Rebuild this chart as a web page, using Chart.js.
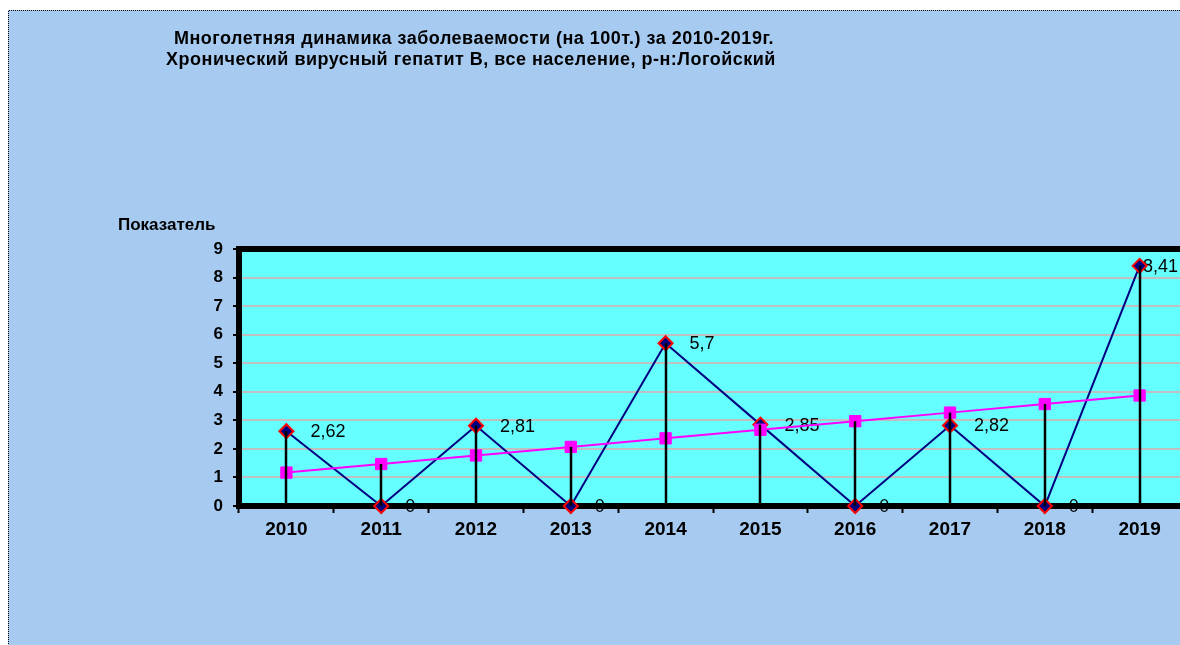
<!DOCTYPE html>
<html>
<head>
<meta charset="utf-8">
<script src="https://cdn.jsdelivr.net/npm/chart.js@4/dist/chart.umd.min.js"></script>
<style>
html, body { margin: 0; padding: 0; background: #ffffff; overflow: hidden; width: 1180px; height: 645px; }
#wrap { position: absolute; left: 0; top: 0; width: 1200px; height: 660px; }
canvas { display: block; }
</style>
</head>
<body>
<div id="wrap"><canvas id="c" width="1200" height="660"></canvas></div>
<script>
const years = ['2010', '2011', '2012', '2013', '2014', '2015', '2016', '2017', '2018', '2019'];
const incidence = [2.62, 0, 2.81, 0, 5.7, 2.85, 0, 2.82, 0, 8.41];
const trend = [1.17, 1.47, 1.77, 2.07, 2.37, 2.67, 2.97, 3.27, 3.57, 3.87];
const titleLines = [
  'Многолетняя динамика заболеваемости (на 100т.) за 2010-2019г.',
  'Хронический вирусный гепатит В, все население, р-н:Логойский'
];
const yAxisTitle = 'Показатель';
const yMin = 0, yMax = 9, yStep = 1;

const FONT = '"Liberation Sans", Arial, sans-serif';
const VISIBLE_RIGHT = 1178;

const decor = {
  id: 'decor',
  beforeDraw(chart) {
    const ctx = chart.ctx;
    ctx.save();
    ctx.fillStyle = '#ffffff';
    ctx.fillRect(0, 0, chart.width, chart.height);
    ctx.fillStyle = '#A6CAF0';
    ctx.fillRect(8, 10, chart.width, chart.height);
    ctx.strokeStyle = '#000000';
    ctx.lineWidth = 1;
    ctx.setLineDash([1, 1]);
    ctx.beginPath();
    ctx.moveTo(8.5, chart.height);
    ctx.lineTo(8.5, 10.5);
    ctx.lineTo(chart.width, 10.5);
    ctx.stroke();
    ctx.setLineDash([]);
    const a = chart.chartArea;
    ctx.fillStyle = '#66FFFF';
    ctx.fillRect(a.left, a.top, a.right - a.left, a.bottom - a.top);
    // titles
    ctx.fillStyle = '#000000';
    ctx.font = 'bold 18px ' + FONT;
    ctx.letterSpacing = '0.5px';
    ctx.textAlign = 'center';
    ctx.textBaseline = 'middle';
    ctx.fillText(titleLines[0], 474, 39);
    ctx.fillText(titleLines[1], 471, 60);
    ctx.letterSpacing = '0px';
    ctx.font = 'bold 17px ' + FONT;
    ctx.textAlign = 'left';
    ctx.fillText(yAxisTitle, 118, 225);
    ctx.restore();
  },
  beforeDatasetsDraw(chart) {
    const ctx = chart.ctx;
    const a = chart.chartArea;
    const xs = chart.scales.x, ys = chart.scales.y;
    ctx.save();
    // data labels
    ctx.fillStyle = '#000000';
    ctx.font = '18px ' + FONT;
    ctx.textAlign = 'left';
    ctx.textBaseline = 'middle';
    incidence.forEach((v, i) => {
      const txt = String(v).replace('.', ',');
      const w = ctx.measureText(txt).width;
      const x = xs.getPixelForValue(i);
      const y = ys.getPixelForValue(v);
      const lx = Math.min(x + 24, VISIBLE_RIGHT - w);
      ctx.fillText(txt, lx, y + 1);
    });
    // plot border
    ctx.strokeStyle = '#000000';
    ctx.lineWidth = 6;
    ctx.strokeRect(a.left, a.top, a.right - a.left, a.bottom - a.top);
    ctx.restore();
  },
  afterDatasetsDraw(chart) {
    const ctx = chart.ctx;
    const xs = chart.scales.x, ys = chart.scales.y;
    ctx.save();
    ctx.strokeStyle = '#000000';
    ctx.lineWidth = 2.5;
    years.forEach((yr, i) => {
      const top = Math.max(incidence[i], trend[i]);
      const x = Math.round(xs.getPixelForValue(i));
      ctx.beginPath();
      ctx.moveTo(x, ys.getPixelForValue(top));
      ctx.lineTo(x, ys.getPixelForValue(0));
      ctx.stroke();
    });
    ctx.restore();
  }
};

new Chart(document.getElementById('c'), {
  type: 'line',
  data: {
    labels: years,
    datasets: [
      {
        label: 'Показатель',
        data: incidence,
        order: 1,
        borderColor: '#000080',
        borderWidth: 2,
        backgroundColor: '#000080',
        pointStyle: 'rectRot',
        pointRadius: 7,
        pointBorderColor: '#FF0000',
        pointBorderWidth: 2,
        pointBackgroundColor: '#000080',
        tension: 0,
        clip: false
      },
      {
        label: 'Тренд',
        data: trend,
        order: 0,
        borderColor: '#FF00FF',
        borderWidth: 2,
        backgroundColor: '#FF00FF',
        pointStyle: 'rect',
        pointRadius: 8,
        pointBorderColor: '#FF00FF',
        pointBorderWidth: 1,
        pointBackgroundColor: '#FF00FF',
        tension: 0,
        clip: false
      }
    ]
  },
  options: {
    responsive: false,
    animation: false,
    events: [],
    layout: { padding: { left: 0, top: 249, right: 13, bottom: 0 } },
    plugins: { legend: { display: false }, title: { display: false }, tooltip: { enabled: false } },
    scales: {
      x: {
        offset: true,
        afterFit(s) { s.height = 154; },
        grid: { offset: true, drawOnChartArea: false, tickLength: 7, tickColor: '#000000', tickWidth: 2, color: '#000000' },
        border: { display: false },
        ticks: { color: '#000000', font: { family: FONT, size: 19, weight: 'bold' }, padding: 5, maxRotation: 0, autoSkip: false }
      },
      y: {
        min: yMin,
        max: yMax,
        afterFit(s) { s.width = 239; },
        grid: { color: '#C0C0C0', lineWidth: 2, tickLength: 6, tickColor: '#000000', tickWidth: 2 },
        border: { display: false },
        ticks: { stepSize: yStep, color: '#000000', font: { family: FONT, size: 17, weight: 'bold' }, padding: 10 }
      }
    }
  },
  plugins: [decor]
});
</script>
</body>
</html>
